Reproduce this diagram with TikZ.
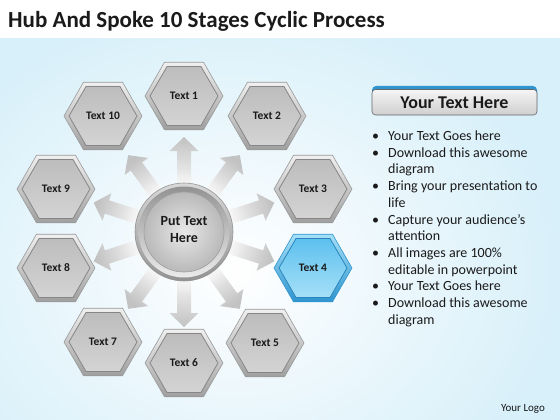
\documentclass[tikz,border=0pt]{standalone}
\usepackage{fontspec}
\setmainfont{Carlito}
\usetikzlibrary{fadings}
\definecolor{bgblue}{HTML}{D8F0FA}
\definecolor{txt}{HTML}{1A1A1A}
\definecolor{bluedark}{HTML}{2F95CF}
\definecolor{bluemid}{HTML}{5DC0EE}
\definecolor{bluelight}{HTML}{A6E0F8}
\tikzfading[name=softfade, inner color=transparent!0, outer color=transparent!100]
\newcommand{\myhex}[6]{%
  \shade[#5] (#1,#2) +(0:39) -- +(60:39) -- +(120:39) -- +(180:39) -- +(240:39) -- +(300:39) -- cycle;
  \shade[#6] (#1,#2) +(0:34) -- +(60:34) -- +(120:34) -- +(180:34) -- +(240:34) -- +(300:34) -- cycle;
  \node[hexlabel] (#3) at (#1,#2) {#4};
}
\begin{document}
\begin{tikzpicture}[x=1pt,y=-1pt,
  hexlabel/.style={font=\fontsize{11.5}{13}\selectfont\bfseries, text=txt, inner sep=0pt},
  frameg/.style={top color=gray!12, bottom color=gray!75, draw=gray!80, line width=0.6pt},
  faceg/.style={top color=gray!52, bottom color=gray!34, draw=gray!95, line width=0.8pt},
  frameb/.style={top color=bluelight, bottom color=bluedark, draw=bluedark, line width=0.6pt},
  faceb/.style={top color=bluemid, bottom color=bluelight, draw=bluedark!90!black, line width=0.8pt},
  bullettext/.style={font=\fontsize{14}{16.7}\selectfont, text=txt, anchor=base west, align=left, inner sep=0pt},
  arrowshape/.style={top color=gray!48, bottom color=white},
]
\useasboundingbox (0,0) rectangle (560,420);
% background
\fill[white] (0,0) rectangle (560,420);
\fill[bgblue] (0,38) rectangle (560,420);
\fill[white, path fading=softfade] (235,270) ellipse (330 and 270);
% title
\node[anchor=base west, font=\fontsize{23}{27}\selectfont\bfseries, text=txt, inner sep=0pt] (title) at (8,28) {Hub And Spoke 10 Stages Cyclic Process};
% arrows
\foreach \a in {90,54,18,-18,-54,-90,-126,-162,162,126} {
  \pgfmathsetmacro{\sa}{\a-90}
  \begin{scope}[shift={(184,232)}, rotate=\a]
    \shade[arrowshape, shading angle=\sa] (38,-7) -- (81,-7) -- (81,-14.5) -- (95,0) -- (81,14.5) -- (81,7) -- (38,7) -- cycle;
  \end{scope}
}
% hub
\fill[white, path fading=softfade] (184,232) circle (64);
\shade[top color=gray!30, bottom color=gray!85, draw=gray!85, line width=0.6pt] (184,232) circle (49);
\shade[top color=gray!85, bottom color=gray!15] (184,232) circle (45.5);
\shade[inner color=gray!18, outer color=gray!55, draw=gray!75, line width=0.6pt] (184,232) circle (40);
\node[font=\fontsize{14}{17}\selectfont\bfseries, text=txt, align=center, inner sep=0pt] (hub) at (184,230) {Put Text\\Here};
% hexagons
\myhex{184}{96}{h1}{Text 1}{frameg}{faceg}
\myhex{267}{116}{h2}{Text 2}{frameg}{faceg}
\myhex{313}{189}{h3}{Text 3}{frameg}{faceg}
\myhex{313}{268}{h4}{Text 4}{frameb}{faceb}
\myhex{265}{343}{h5}{Text 5}{frameg}{faceg}
\myhex{184}{363}{h6}{Text 6}{frameg}{faceg}
\myhex{103}{342}{h7}{Text 7}{frameg}{faceg}
\myhex{56}{268}{h8}{Text 8}{frameg}{faceg}
\myhex{56}{189}{h9}{Text 9}{frameg}{faceg}
\myhex{103}{116}{h10}{Text 10}{frameg}{faceg}
% right panel button
\fill[rounded corners=4pt, bluedark] (372,86) rectangle (537,104);
\shade[rounded corners=3.5pt, top color=gray!8, bottom color=gray!38, draw=gray!80!black, line width=0.6pt] (372,89.5) rectangle (537,115);
\node[font=\fontsize{18}{21}\selectfont\bfseries, text=txt, inner sep=0pt] (btn) at (454.5,102.5) {Your Text Here};
% bullets (anchor = baseline of last line)
\node[bullettext] (b1) at (388,140.5) {\llap{•\hspace{9pt}}Your Text Goes here};
\node[bullettext] (b2) at (388,173.9) {\llap{•\hspace{9pt}}Download this awesome\\diagram};
\node[bullettext] (b3) at (388,207.3) {\llap{•\hspace{9pt}}Bring your presentation to\\life};
\node[bullettext] (b4) at (388,240.7) {\llap{•\hspace{9pt}}Capture your audience’s\\attention};
\node[bullettext] (b5) at (388,274.1) {\llap{•\hspace{9pt}}All images are 100\%\\editable in powerpoint};
\node[bullettext] (b6) at (388,290.8) {\llap{•\hspace{9pt}}Your Text Goes here};
\node[bullettext] (b7) at (388,324.2) {\llap{•\hspace{9pt}}Download this awesome\\diagram};
% logo
\node[font=\fontsize{11}{13}\selectfont, text=gray!20!black, inner sep=0pt] (logo) at (523,409) {Your Logo};
\end{tikzpicture}
\end{document}
